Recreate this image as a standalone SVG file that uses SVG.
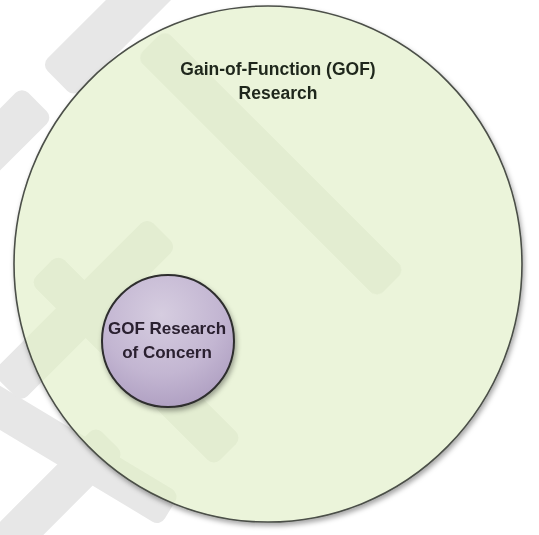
<svg xmlns="http://www.w3.org/2000/svg" xmlns:xlink="http://www.w3.org/1999/xlink" width="539" height="535" viewBox="0 0 539 535">
  <style>
    .title { font-family: "Liberation Sans", Arial, sans-serif; font-weight: bold; font-size: 17.5px; fill: #1f271c; text-anchor: middle; }
    .inner { font-family: "Liberation Sans", Arial, sans-serif; font-weight: bold; font-size: 17px; fill: #2a2030; text-anchor: middle; }
  </style>
  <defs>
    <g id="wm">
      <!-- A -->
      <rect x="-23" y="-80" width="46" height="250" rx="9" transform="translate(57.5,81) rotate(45) translate(0,-170)"/>
      <!-- C -->
      <rect x="-22" y="0" width="44" height="200" rx="9" transform="translate(37.5,102) rotate(45)"/>
      <!-- B -->
      <rect x="-20" y="-340" width="40" height="340" rx="9" transform="translate(391,284) rotate(-45)"/>
      <!-- P -->
      <rect x="-19" y="-240" width="38" height="240" rx="9" transform="translate(170,510) rotate(-59)"/>
      <!-- Q -->
      <rect x="-20" y="0" width="40" height="200" rx="9" transform="translate(110,440) rotate(45)"/>
      <!-- S4 -->
      <rect x="-21" y="0" width="42" height="220" rx="9" transform="translate(162,232) rotate(45)"/>
      <!-- behind small circle -->
      <rect x="-20" y="-260" width="40" height="260" rx="9" transform="translate(228,452) rotate(-45)"/>
    </g>
    <clipPath id="bigclip">
      <ellipse cx="268" cy="264" rx="254" ry="258"/>
    </clipPath>
    <radialGradient id="smallfill" cx="0.45" cy="0.3" r="0.75">
      <stop offset="0" stop-color="#d6cde0"/>
      <stop offset="0.6" stop-color="#c3b6d2"/>
      <stop offset="1" stop-color="#ad9dc0"/>
    </radialGradient>
    <filter id="shadow" x="-10%" y="-10%" width="130%" height="130%">
      <feDropShadow dx="1.5" dy="3" stdDeviation="2.5" flood-color="#000" flood-opacity="0.35"/>
    </filter>
  </defs>

  <rect width="539" height="535" fill="#ffffff"/>
  <use xlink:href="#wm" fill="#e7e7e7"/>

  <g id="gof-research">
    <ellipse cx="268" cy="264" rx="254" ry="258" fill="#ebf4da" stroke="#4b4f48" stroke-width="1.6" filter="url(#shadow)"/>
    <use xlink:href="#wm" fill="#556b2f" opacity="0.05" clip-path="url(#bigclip)"/>
    <text class="title" x="278" y="75">Gain-of-Function (GOF)</text>
    <text class="title" x="278" y="99">Research</text>
  </g>

  <g id="gof-concern">
    <circle cx="168" cy="341" r="66" fill="url(#smallfill)" stroke="#2e2e2e" stroke-width="2" filter="url(#shadow)"/>
    <text class="inner" x="167" y="334">GOF Research</text>
    <text class="inner" x="167" y="358">of Concern</text>
  </g>

  <g id="connectors"/>
</svg>
